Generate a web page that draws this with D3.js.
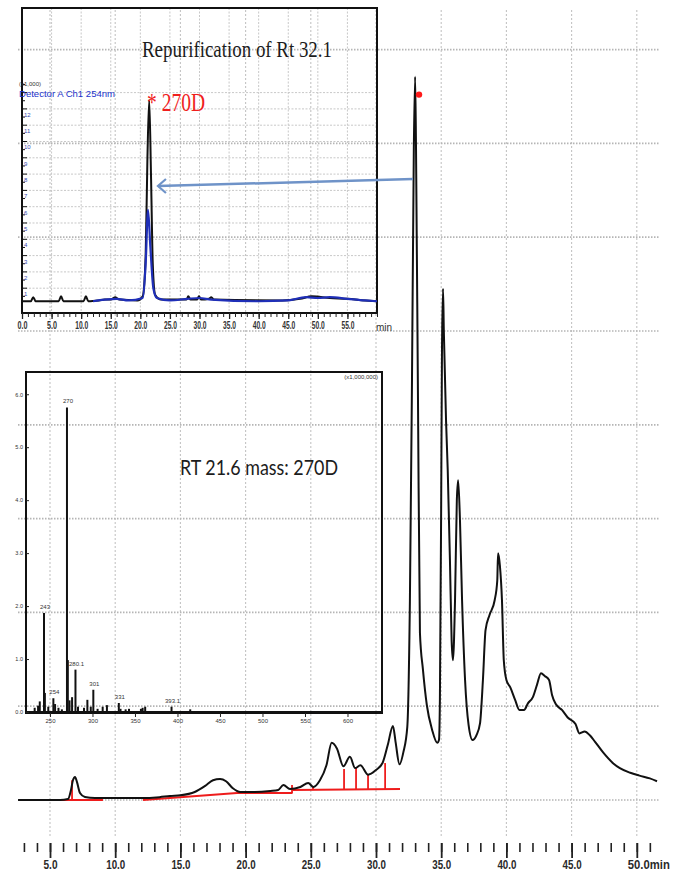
<!DOCTYPE html>
<html><head><meta charset="utf-8">
<script src="https://cdn.jsdelivr.net/npm/d3@7"></script>
<style>body{margin:0;background:#fff}svg{display:block}</style>
</head><body><svg id="c" width="676" height="872"></svg>
<script>
// ---------- DATA ----------
// main chromatogram: [time (min), signal]
const mainTrace = [[2.55,0],[5.77,0],[6.38,1],[6.61,10.7],[6.76,21],[6.92,24.5],[7.07,19],[7.30,7.5],[7.68,3.2],[8.45,2],[11.9,2],[13.4,3],[14.2,4.3],[15.0,5],[16.1,8.5],[16.9,15],[17.5,21],[18.04,22.4],[18.5,20],[19.0,12.8],[19.6,8.5],[20.7,8.5],[21.9,9.6],[22.5,10.7],[22.9,16],[23.4,11.7],[24.2,13.9],[24.8,18],[25.2,13.9],[25.7,21],[26.2,37],[26.6,61],[27.0,55],[27.5,36],[28.0,46],[28.4,34],[28.8,37],[29.4,27],[30.0,32],[30.5,39.4],[30.9,58.6],[31.3,79],[31.5,62],[31.8,38],[32.1,51],[32.4,78],[32.6,213],[32.76,448],[32.9,693],[33.0,771],[33.07,693],[33.22,426],[33.37,178],[33.6,139],[33.9,101],[34.3,75],[34.7,61],[34.83,64],[34.9,107],[35.0,320],[35.06,480],[35.14,545],[35.2,501],[35.37,405],[35.5,352],[35.67,256],[35.8,170],[35.9,149],[36.06,213],[36.2,320],[36.3,341],[36.44,298],[36.6,213],[36.83,128],[37.1,80],[37.4,64],[37.7,69],[37.98,82],[38.2,128],[38.4,181],[38.7,197],[39.1,213],[39.3,234],[39.36,263],[39.5,250],[39.66,213],[39.8,149],[40.0,128],[40.3,120],[40.66,107],[41.0,96],[41.35,96],[41.65,103],[42.04,110],[42.35,123],[42.65,135],[42.96,132],[43.27,128],[43.5,112],[43.8,102],[44.26,96],[44.7,88],[45.3,81],[45.6,71],[46.0,73],[46.4,69],[46.8,62],[47.4,51],[48.2,39],[48.7,34],[49.5,29],[50.2,26],[51.0,23],[51.55,20]];
const mainMajorTicks = [5,10,15,20,25,30,35,40,45,50];
const mainTickLabels = ["5.0","10.0","15.0","20.0","25.0","30.0","35.0","40.0","45.0","50.0min"];
const mainGridValues = [0,100,200,300,400,500,600,700,800];
// red integration baseline segments [[t1,v1],[t2,v2]]
const integBase = [[[5.54,0],[9.06,0]],[[12.13,0],[19.34,7.5]],[[19.34,7.5],[23.6,7.5]],[[23.6,10.7],[31.84,11.7]]];
// red drop lines [time, from, to]
const dropLines = [[6.69,0,21],[23.56,7.5,16],[25.17,11,15],[27.55,11.7,33],[28.47,11.7,34],[29.39,11.7,27],[30.7,11.7,39.4]];
const peakMark = [33.3,752];

// inset 1: repurification chromatogram
const insetBlack = [[0,0.2],[1.5,0.2],[1.9,0.45],[2.3,0.2],[6.2,0.2],[6.6,0.5],[7.0,0.2],[10.4,0.2],[10.8,0.5],[11.2,0.2],[13,0.25],[14,0.3],[15,0.3],[15.8,0.45],[16.4,0.3],[19.5,0.25],[20.4,0.5],[20.9,3],[21.2,9],[21.5,12.55],[21.8,8],[22.1,2.5],[22.5,0.6],[23.5,0.3],[27.8,0.3],[28.1,0.5],[28.5,0.3],[29.6,0.3],[29.9,0.5],[30.3,0.3],[31.6,0.35],[32,0.45],[32.4,0.3],[44,0.25],[47,0.35],[49,0.5],[52,0.4],[55,0.35],[58,0.25],[60,0.2]];
const insetBlue = [[12,0.2],[14,0.3],[16,0.35],[18,0.25],[20.4,0.4],[20.9,2.5],[21.3,5.8],[21.7,3.5],[22.2,1],[22.8,0.4],[25,0.25],[28,0.35],[30,0.4],[32,0.3],[40,0.2],[45,0.25],[48,0.45],[50,0.4],[52,0.45],[55,0.35],[58,0.25],[60,0.2]];
const insetMajorTicks = [0,5,10,15,20,25,30,35,40,45,50,55];
const insetTickLabels = ["0.0","5.0","10.0","15.0","20.0","25.0","30.0","35.0","40.0","45.0","50.0","55.0"];
const insetGridValues = [1,2,3,4,5,6,7,8,9,10,11,12,13];
const insetYLabelValues = [1,2,3,4,5,6,7,8,9,10,11,12];
const insetYLabels = ["1","2","3","4","5","6","7","8","9","10","11","12"];

// inset 2: mass spectrum [m/z, intensity]
const msPeaks = [[232,0.08],[236,0.12],[238,0.2],[243,1.87],[244,0.36],[248,0.1],[254,0.26],[256,0.15],[260,0.08],[264,0.05],[270,5.75],[271,0.98],[273,0.22],[276,0.28],[280,0.8],[283,0.1],[290,0.08],[294,0.23],[298,0.1],[301,0.42],[306,0.06],[312,0.1],[317,0.13],[331,0.17],[333,0.06],[339,0.05],[343,0.06],[357,0.06],[359,0.08],[362,0.1],[393,0.1],[415,0.05]];
const msPeakLabels = [[243,"243"],[254,"254"],[270,"270"],[280,"280.1"],[301,"301"],[331,"331"],[393,"393.1"]];
const msTicks = [250,300,350,400,450,500,550,600];
const msYTicks = [0,1,2,3,4,5,6];

// arrow from main peak to inset peak (main coords -> inset coords)
const arrowFromMain = [32.84,662];
const arrowToInset = [22.98,7.27];

// ---------- DRAW ----------
const svg = d3.select("#c");
const SANS = "Liberation Sans, Arial, sans-serif";

// main scales
const x = d3.scaleLinear().domain([5,50]).range([50,636.8]);
const y = d3.scaleLinear().domain([0,800]).range([800,49.6]);

// main grid
const grid = svg.append("g");
grid.selectAll("line.v").data(mainMajorTicks).join("line")
  .attr("x1",d=>x(d)).attr("x2",d=>x(d)).attr("y1",10).attr("y2",836)
  .attr("stroke","#c4c4c4").attr("stroke-width",1.1).attr("stroke-dasharray","2,2");
grid.selectAll("line.h").data(mainGridValues).join("line")
  .attr("x1",18).attr("x2",660).attr("y1",d=>y(d)).attr("y2",d=>y(d))
  .attr("stroke","#b5b5b5").attr("stroke-width",1.7).attr("stroke-dasharray","1.5,1.5");

// main x axis (minor + major)
const axMinor = svg.append("g").attr("transform","translate(0,843)")
  .call(d3.axisBottom(x).tickValues(d3.range(3,52)).tickSize(9).tickFormat(""));
axMinor.select(".domain").remove();
axMinor.selectAll("line").attr("stroke","#222").attr("stroke-width",1.6);
const axMajor = svg.append("g").attr("transform","translate(0,843)")
  .call(d3.axisBottom(x).tickValues(mainMajorTicks).tickSize(15).tickPadding(2)
    .tickFormat((d,i)=>mainTickLabels[i]));
axMajor.select(".domain").remove();
axMajor.selectAll("line").attr("stroke","#222").attr("stroke-width",1.8);
axMajor.selectAll("text").attr("font-family",SANS)
  .attr("font-weight","bold").attr("font-size",12).attr("fill","#2a2a2a")
  .attr("textLength",(d,i)=>mainTickLabels[i].length>4?42:(mainTickLabels[i].length>3?19:14))
  .attr("lengthAdjust","spacingAndGlyphs")
  .attr("text-anchor",(d,i)=>mainTickLabels[i].length>4?"start":"middle")
  .attr("x",(d,i)=>mainTickLabels[i].length>4?-9.5:0);

// red integration
const red = svg.append("g");
red.selectAll("line.b").data(integBase).join("line")
  .attr("x1",d=>x(d[0][0])).attr("y1",d=>y(d[0][1])).attr("x2",d=>x(d[1][0])).attr("y2",d=>y(d[1][1]))
  .attr("stroke","#ee1c1c").attr("stroke-width",2);
red.selectAll("line.d").data(dropLines).join("line")
  .attr("x1",d=>x(d[0])).attr("x2",d=>x(d[0])).attr("y1",d=>y(d[1])).attr("y2",d=>y(d[2]))
  .attr("stroke","#ee1c1c").attr("stroke-width",1.8);

// main trace
const mainLine = d3.line().x(d=>x(d[0])).y(d=>y(d[1])).curve(d3.curveMonotoneX);
svg.append("path").datum(mainTrace).attr("d",mainLine)
  .attr("fill","none").attr("stroke","#111").attr("stroke-width",2).attr("stroke-linejoin","round");
// peak marker
svg.append("circle").attr("cx",x(peakMark[0])).attr("cy",y(peakMark[1])).attr("r",3.2).attr("fill","#ff1a1a");

// ---------- INSET 1 ----------
const xi = d3.scaleLinear().domain([0,60]).range([22,377]);
const yi = d3.scaleLinear().domain([0,18.19]).range([304.5,8]);
const ins = svg.append("g");
ins.selectAll("line.v").data(insetMajorTicks.slice(1)).join("line")
  .attr("x1",d=>xi(d)).attr("x2",d=>xi(d)).attr("y1",8).attr("y2",313)
  .attr("stroke","#c8c8c8").attr("stroke-width",1).attr("stroke-dasharray","2,1.5");
ins.selectAll("line.h").data(insetGridValues).join("line")
  .attr("x1",22).attr("x2",377).attr("y1",d=>yi(d)).attr("y2",d=>yi(d))
  .attr("stroke","#c8c8c8").attr("stroke-width",1).attr("stroke-dasharray","2,1.5");
// y ticks inside axis
ins.selectAll("line.yt").data(d3.range(0.5,13.6,0.5)).join("line")
  .attr("x1",22).attr("x2",d=>Number.isInteger(d)?27:25).attr("y1",d=>yi(d)).attr("y2",d=>yi(d))
  .attr("stroke","#111").attr("stroke-width",1);
ins.selectAll("text.yl").data(insetYLabelValues).join("text")
  .attr("x",24).attr("y",d=>yi(d)+8).text((d,i)=>insetYLabels[i])
  .attr("font-family",SANS).attr("font-size",6).attr("fill","#3a4bb0");
// box
ins.append("rect").attr("x",22).attr("y",8).attr("width",355).attr("height",305)
  .attr("fill","none").attr("stroke","#111").attr("stroke-width",2);
// x axis
const iaMinor = ins.append("g").attr("transform","translate(0,313)")
  .call(d3.axisBottom(xi).tickValues(d3.range(0,61,1)).tickSize(4).tickFormat(""));
iaMinor.select(".domain").remove();
iaMinor.selectAll("line").attr("stroke","#222").attr("stroke-width",1);
const iaMajor = ins.append("g").attr("transform","translate(0,313)")
  .call(d3.axisBottom(xi).tickValues(insetMajorTicks).tickSize(6).tickPadding(3).tickFormat((d,i)=>insetTickLabels[i]));
iaMajor.select(".domain").remove();
iaMajor.selectAll("line").attr("stroke","#222").attr("stroke-width",1.3);
iaMajor.selectAll("text").attr("font-family",SANS).attr("font-weight","bold")
  .attr("font-size",10).attr("fill","#333")
  .attr("textLength",(d,i)=>insetTickLabels[i].length>3?13:10).attr("lengthAdjust","spacingAndGlyphs");
ins.append("text").attr("x",xi(60)-1).attr("y",331).text("min")
  .attr("font-family",SANS).attr("font-size",10).attr("fill","#333");
// traces
const insLine = d3.line().x(d=>xi(d[0])).y(d=>yi(d[1])).curve(d3.curveMonotoneX);
ins.append("path").datum(insetBlack).attr("d",insLine).attr("fill","none").attr("stroke","#111").attr("stroke-width",2);
ins.append("path").datum(insetBlue).attr("d",insLine).attr("fill","none").attr("stroke","#1f2fb8").attr("stroke-width",2.2);
// inset texts
ins.append("text").attr("x",237).attr("y",57).attr("text-anchor","middle").text("Repurification of Rt 32.1")
  .attr("font-family","Liberation Serif, Times New Roman, serif").attr("font-size",24).attr("fill","#1c1c1c")
  .attr("textLength",190).attr("lengthAdjust","spacingAndGlyphs");
ins.append("text").attr("x",147).attr("y",111).text("* 270D")
  .attr("font-family","Liberation Serif, Times New Roman, serif").attr("font-size",26).attr("fill","#f01e1e")
  .attr("textLength",58).attr("lengthAdjust","spacingAndGlyphs");
ins.append("text").attr("x",19).attr("y",86).text("(x1,000)")
  .attr("font-family",SANS).attr("font-size",6).attr("fill","#333");
ins.append("text").attr("x",19).attr("y",97).text("Detector A Ch1 254nm")
  .attr("font-family",SANS).attr("font-size",8.5).attr("fill","#2233cc")
  .attr("textLength",96).attr("lengthAdjust","spacingAndGlyphs");

// ---------- INSET 2 (mass spectrum) ----------
const xm = d3.scaleLinear().domain([221.8,640.6]).range([26,382]);
const ym = d3.scaleLinear().domain([0,6.42]).range([712,372]);
const ms = svg.append("g");
ms.selectAll("line.pk").data(msPeaks).join("line")
  .attr("x1",d=>xm(d[0])).attr("x2",d=>xm(d[0])).attr("y1",ym(0)).attr("y2",d=>ym(d[1]))
  .attr("stroke","#111").attr("stroke-width",2);
ms.selectAll("text.pl").data(msPeakLabels).join("text")
  .attr("x",d=>xm(d[0])+1).attr("y",d=>ym(msPeaks.find(p=>p[0]===d[0])[1])-4)
  .attr("text-anchor","middle").text(d=>d[1])
  .attr("font-family",SANS).attr("font-size",6).attr("fill","#333");
ms.append("rect").attr("x",26).attr("y",372).attr("width",356).attr("height",341)
  .attr("fill","none").attr("stroke","#111").attr("stroke-width",2);
ms.append("line").attr("x1",26).attr("x2",382).attr("y1",ym(0)).attr("y2",ym(0)).attr("stroke","#111").attr("stroke-width",2);
const maAx = ms.append("g").attr("transform","translate(0,713)")
  .call(d3.axisBottom(xm).tickValues(msTicks).tickSize(4).tickPadding(2));
maAx.select(".domain").remove();
maAx.selectAll("line").attr("stroke","#222");
maAx.selectAll("text").attr("font-family",SANS).attr("font-size",6).attr("fill","#333");
const myAx = ms.append("g").attr("transform","translate(26,0)")
  .call(d3.axisLeft(ym).tickValues(msYTicks).tickSize(-3).tickPadding(3).tickFormat(d=>d.toFixed(1)));
myAx.select(".domain").remove();
myAx.selectAll("line").attr("stroke","#222");
myAx.selectAll("text").attr("font-family",SANS).attr("font-size",5.5).attr("fill","#333");
ms.append("text").attr("x",378).attr("y",379).attr("text-anchor","end").text("(x1,000,000)")
  .attr("font-family",SANS).attr("font-size",6).attr("fill","#333");
ms.append("text").attr("x",180).attr("y",475).text("RT 21.6 mass: 270D")
  .attr("font-family","Lato, Open Sans, sans-serif").attr("font-size",21).attr("fill","#1c1c1c")
  .attr("textLength",158).attr("lengthAdjust","spacingAndGlyphs");

// ---------- ARROW ----------
const ax1 = x(arrowFromMain[0]), ay1 = y(arrowFromMain[1]);
const ax2 = xi(arrowToInset[0]), ay2 = yi(arrowToInset[1]);
svg.append("line").attr("x1",ax1).attr("y1",ay1).attr("x2",ax2).attr("y2",ay2)
  .attr("stroke","#6f93c8").attr("stroke-width",2.5);
svg.append("path").attr("d",`M${ax2+8},${ay2-7}L${ax2},${ay2}L${ax2+8},${ay2+7}`)
  .attr("fill","none").attr("stroke","#6f93c8").attr("stroke-width",2.2);
</script></body></html>
